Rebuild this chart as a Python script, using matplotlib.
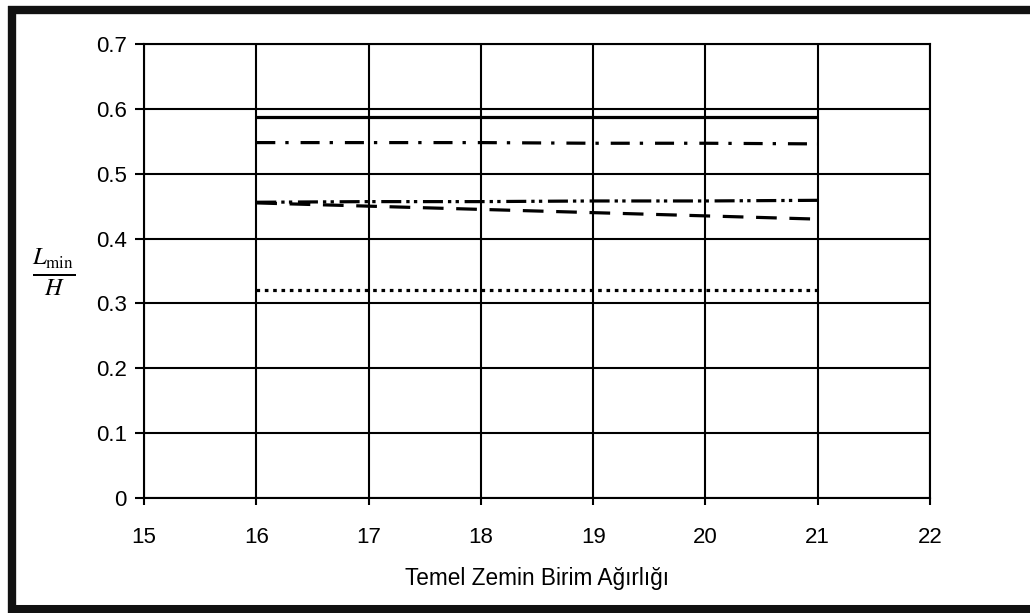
import matplotlib.pyplot as plt
from matplotlib.lines import Line2D

plt.rcParams['font.family'] = ['Liberation Sans', 'DejaVu Sans']
plt.rcParams['mathtext.fontset'] = 'stix'
plt.rcParams['lines.scale_dashes'] = False

# unit weight of foundation soil
gamma = [16, 17, 18, 19, 20, 21]

# Lmin/H for each case
solid = [0.587, 0.587, 0.587, 0.587, 0.587, 0.587]
dash_dot = [0.548, 0.548, 0.548, 0.547, 0.547, 0.546]
dash_dot_dot = [0.456, 0.457, 0.457, 0.458, 0.458, 0.459]
dashed = [0.455, 0.450, 0.445, 0.440, 0.435, 0.430]
dotted = [0.321, 0.321, 0.321, 0.321, 0.321, 0.321]

x_ticks = [15, 16, 17, 18, 19, 20, 21, 22]
y_ticks = [0, 0.1, 0.2, 0.3, 0.4, 0.5, 0.6, 0.7]
y_tick_labels = ['0', '0.1', '0.2', '0.3', '0.4', '0.5', '0.6', '0.7']

fig = plt.figure(figsize=(10.3, 6.13), dpi=100)
ax = fig.add_axes([0.1398, 0.1876, 0.7631, 0.7406])

lw = 2.3
ax.plot(gamma, solid, color='black', lw=lw, solid_capstyle='butt')
ax.plot(gamma, dash_dot, color='black', lw=lw, linestyle=(0, (13.7, 7.2, 2.4, 8.6)), dash_capstyle='butt')
ax.plot(gamma, dash_dot_dot, color='black', lw=lw, linestyle=(0, (14.4, 3.6, 2.4, 3.1, 2.4, 4.1)), dash_capstyle='butt')
ax.plot(gamma, dashed, color='black', lw=lw, linestyle=(0, (14.9, 9.1)), dash_capstyle='butt')
ax.plot(gamma, dotted, color='black', lw=lw, linestyle=(0, (2.6, 3.4)), dash_capstyle='butt')

ax.set_xlim(15, 22)
ax.set_ylim(0, 0.7)
ax.set_xticks(x_ticks)
ax.set_yticks(y_ticks)
ax.set_yticklabels(y_tick_labels)
ax.grid(True, color='black', lw=1.5)
ax.set_axisbelow(True)
for s in ax.spines.values():
    s.set_linewidth(1.5)
ax.tick_params(axis='y', direction='out', length=6.5, width=1.5, pad=6, labelsize=16)
ax.tick_params(axis='x', direction='out', length=5, width=1.5, pad=16, labelsize=16)

ax.set_xlabel('Temel Zemin Birim Ağırlığı', fontsize=16.3)
ax.xaxis.set_label_coords(0.5, -0.152)
fig.text(54 / 1030, 1 - 272 / 613, r'$\frac{L_{\min}}{H}$', fontsize=25,
         ha='center', va='center')

# dark frame around the figure
fig.add_artist(Line2D([12 / 1030, 12 / 1030], [0, 1 - 6 / 613], transform=fig.transFigure, color='#111111', lw=6, solid_capstyle='butt'))
fig.add_artist(Line2D([8 / 1030, 1], [1 - 10 / 613, 1 - 10 / 613], transform=fig.transFigure, color='#111111', lw=6, solid_capstyle='butt'))
fig.add_artist(Line2D([8 / 1030, 1], [4.5 / 613, 4.5 / 613], transform=fig.transFigure, color='#111111', lw=6.5, solid_capstyle='butt'))

fig.savefig('out.png', dpi=100)
